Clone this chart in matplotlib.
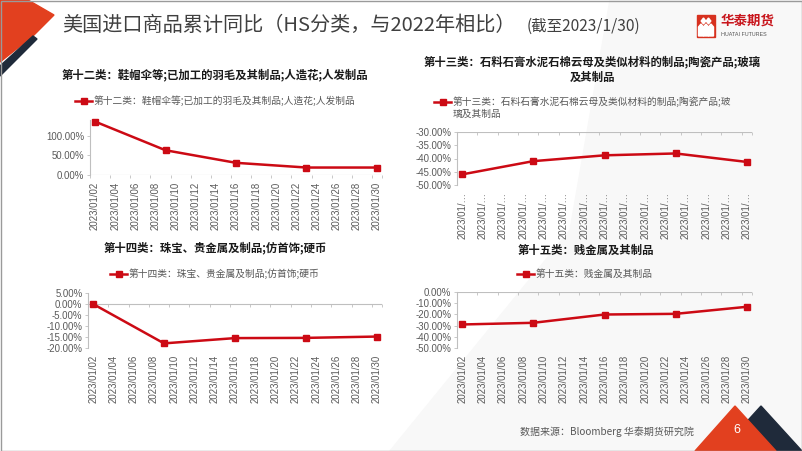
import matplotlib
matplotlib.use("Agg")
import matplotlib.pyplot as plt
from matplotlib.patches import Polygon, Rectangle
from matplotlib.lines import Line2D
import pandas as pd

plt.rcParams['font.family'] = ['Noto Sans CJK SC', 'DejaVu Sans']

# ---------------- data ----------------
dates = ["2023/01/02", "2023/01/09", "2023/01/16", "2023/01/23", "2023/01/30"]
s12 = [136.0, 63.0, 31.0, 19.0, 19.0]
s13 = [-46.0, -41.0, -38.8, -38.1, -41.3]
s14 = [0.0, -17.9, -15.5, -15.4, -14.8]
s15 = [-29.0, -27.5, -20.1, -19.5, -13.2]

title12 = "第十二类：鞋帽伞等;已加工的羽毛及其制品;人造花;人发制品"
title13 = "第十三类：石料石膏水泥石棉云母及类似材料的制品;陶瓷产品;玻璃\n及其制品"
title14 = "第十四类：珠宝、贵金属及制品;仿首饰;硬币"
title15 = "第十五类：贱金属及其制品"
legend12 = "第十二类：鞋帽伞等;已加工的羽毛及其制品;人造花;人发制品"
legend13 = "第十三类：石料石膏水泥石棉云母及类似材料的制品;陶瓷产品;玻\n璃及其制品"
legend14 = "第十四类：珠宝、贵金属及制品;仿首饰;硬币"
legend15 = "第十五类：贱金属及其制品"

main_title = "美国进口商品累计同比（HS分类，与2022年相比）"
sub_title = "(截至2023/1/30)"
source = "数据来源：Bloomberg 华泰期货研究院"
page_no = "6"

# ---------------- helpers ----------------
W, H = 802, 451
fig = plt.figure(figsize=(W / 100, H / 100), dpi=100)
fig.patch.set_facecolor("white")

def fx(x):
    return x / W

def fy(y):
    return 1 - y / H

RED = "#CC0A14"
GRAY_TXT = "#595959"
AX_GRAY = "#BFBFBF"

# background decorations
bg = fig.add_axes([0, 0, 1, 1])
bg.set_xlim(0, W)
bg.set_ylim(H, 0)
bg.axis("off")
bg.add_patch(Polygon([(610, 0), (802, 0), (802, 451), (390, 451), (570, 230)],
                     closed=True, color="#F8F8F8", zorder=0))
bg.add_patch(Polygon([(0, 0), (28, 0), (54, 15), (33, 36), (0, 62)],
                     closed=True, color="#E2401F", zorder=2))
bg.add_patch(Polygon([(33, 36), (37, 39), (0, 76), (0, 66)],
                     closed=True, color="#1F2A3A", zorder=2))
# bottom-right triangles
bg.add_patch(Polygon([(761, 406), (720, 451), (802, 451)],
                     closed=True, color="#1F2A3A", zorder=2))
bg.add_patch(Polygon([(735, 406), (695, 451), (776, 451)],
                     closed=True, color="#E2401F", zorder=3))
bg.text(737, 430, page_no, color="white", fontsize=9, ha="center", va="center", zorder=4,
        family=["Liberation Sans", "DejaVu Sans"])
bg.add_patch(Rectangle((0.5, 0.5), W - 1, H - 1, fill=False, ec="#9A9A9A", lw=1, zorder=5))

# header text
bg.text(62, 25, main_title, fontsize=14.5, color="#404040", ha="left", va="center",
        fontweight="light", zorder=3)
bg.text(527, 26, sub_title, fontsize=11.2, color="#404040", ha="left", va="center",
        fontweight="light", zorder=3)
# logo
bg.add_patch(Rectangle((697, 15), 18, 22, color="#D7311F", zorder=3))
for cx in (701, 706, 711):
    bg.add_patch(Polygon([(cx - 2.5, 36), (cx - 2.5, 27), (cx, 24), (cx + 2.5, 27), (cx + 2.5, 36)],
                         closed=True, color="white", zorder=4))
for cx in (703.5, 708.5):
    bg.add_patch(Polygon([(cx - 2.3, 21), (cx, 18), (cx + 2.3, 21), (cx, 24)],
                         closed=True, color="white", zorder=4))
bg.text(721, 21, "华泰期货", fontsize=9.7, color="#C8161D", ha="left", va="center",
        fontweight="bold", zorder=3)
bg.text(721, 34, "HUATAI FUTURES", fontsize=3.9, color="#555555", ha="left", va="center", zorder=3,
        family=["Liberation Sans", "DejaVu Sans"])
# footer
bg.text(520, 432, source, fontsize=7.2, color=GRAY_TXT, ha="left", va="center", zorder=3)

# ---------------- panels ----------------
d0 = pd.Timestamp(dates[0])
xs = [(pd.Timestamp(d) - d0).days for d in dates]
tick_dates = pd.date_range(dates[0], dates[-1], freq="2D")
tick_pos = [(t - d0).days for t in tick_dates]
tick_lab = [t.strftime("%Y/%m/%d") for t in tick_dates]
bounds = [p - 0.5 for p in tick_pos]

NUMFONT = ["Liberation Sans", "DejaVu Sans"]

def panel(box, vals, ylim, yticks, cross, title, title_xy, legend, leg_xy, truncated=False):
    x0, y0, x1, y1 = box
    ax = fig.add_axes([fx(x0), fy(y1), (x1 - x0) / W, (y1 - y0) / H])
    ax.set_facecolor("none")
    ax.plot(xs, vals, color=RED, lw=1.8, marker="s", ms=4, zorder=3, clip_on=False)
    ax.set_xlim(-0.5, 28.5)
    ax.set_ylim(*ylim)
    for s in ["top", "right", "bottom"]:
        ax.spines[s].set_visible(False)
    ax.spines["left"].set_color(AX_GRAY)
    ax.spines["left"].set_linewidth(0.8)
    ax.set_yticks(yticks)
    ax.set_yticklabels([f"{v:.2f}%" for v in yticks], fontsize=6.9, color=GRAY_TXT,
                       family=NUMFONT)
    ax.tick_params(axis="y", length=2.5, width=0.6, color=AX_GRAY, pad=1.5)
    # category axis line at crossing value with small tick marks
    ax.axhline(cross, color=AX_GRAY, lw=0.8, zorder=1)
    span = ylim[1] - ylim[0]
    tl = span * 3.0 / (y1 - y0)
    ax.vlines(bounds + [28.5], cross - tl, cross, color=AX_GRAY, lw=0.6, zorder=1, clip_on=False)
    ax.set_xticks(tick_pos)
    labs = [t[:8] + "…" for t in tick_lab] if truncated else tick_lab
    ax.set_xticklabels(labs, rotation=90, fontsize=6.9, color=GRAY_TXT, family=NUMFONT)
    ax.tick_params(axis="x", length=0, pad=5)
    # title
    bg.text(title_xy[0], title_xy[1], title, fontsize=8.2, fontweight="bold", color="#1A1A1A",
            ha="center", va="center", linespacing=1.25)
    # legend
    lx, ly = leg_xy
    bg.add_line(Line2D([lx, lx + 17], [ly, ly], color=RED, lw=1.8, zorder=3))
    bg.add_line(Line2D([lx + 8.5], [ly], color=RED, marker="s", ms=4, zorder=3))
    bg.text(lx + 19, ly, legend.split("\n")[0], fontsize=7, color=GRAY_TXT, ha="left", va="center")
    if "\n" in legend:
        bg.text(lx + 19, ly + 12, legend.split("\n")[1], fontsize=7, color=GRAY_TXT,
                ha="left", va="center")
    return ax

panel((90, 120, 382, 175), s12, (0, 140), [0, 50, 100], 0,
      title12, (215, 75), legend12, (75, 101))
panel((457, 132, 752, 185), s13, (-50, -30), [-50, -45, -40, -35, -30], -30,
      title13, (592, 70), legend13, (434, 102), truncated=True)
panel((88, 293, 382, 348), s14, (-20, 5), [-20, -15, -10, -5, 0, 5], 0,
      title14, (215, 248), legend14, (110, 274))
panel((457, 292, 752, 348), s15, (-50, 0), [-50, -40, -30, -20, -10, 0], 0,
      title15, (586, 250), legend15, (517, 274))

fig.savefig("out.png", dpi=100, facecolor="white")
